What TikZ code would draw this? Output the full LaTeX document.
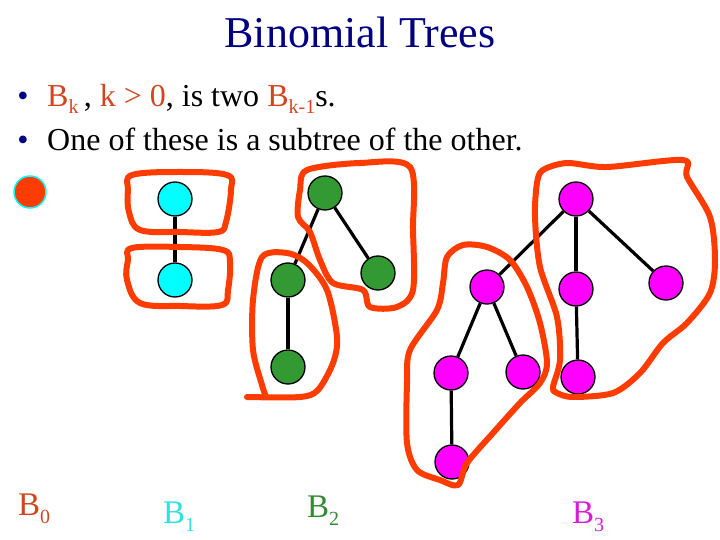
\documentclass[tikz,border=0pt]{standalone}
\usepackage{fontspec}
\setmainfont{Liberation Serif}
\usetikzlibrary{backgrounds}
\definecolor{navy}{RGB}{0,0,128}
\definecolor{txtorange}{RGB}{210,70,30}
\definecolor{loopred}{RGB}{255,60,0}
\definecolor{cyantxt}{RGB}{45,225,225}
\definecolor{cyanfill}{RGB}{0,255,255}
\definecolor{greenfill}{RGB}{51,153,51}
\definecolor{greentxt}{RGB}{51,140,51}
\definecolor{magfill}{RGB}{255,0,255}
\definecolor{magtxt}{RGB}{215,30,215}
\newcommand\mysub[1]{\raisebox{-7pt}{\fontsize{20}{20}\selectfont #1}}
\newcommand\labsub[1]{\raisebox{-8pt}{\fontsize{20}{20}\selectfont #1}}
\begin{document}
\begin{tikzpicture}[x=1pt,y=-1pt,
  tnode/.style={circle,draw=black,line width=1.3pt,minimum size=34pt,inner sep=0pt},
  cyannode/.style={tnode,fill=cyanfill},
  greennode/.style={tnode,fill=greenfill},
  magnode/.style={tnode,fill=magfill},
  edge/.style={draw=black,line width=3.2pt},
  loopline/.style={draw=loopred,line width=6pt,line join=round,line cap=round},
  txt/.style={inner sep=0pt,anchor=base west}]
\useasboundingbox (0,0) rectangle (720,540);
% title
\node[inner sep=0pt,anchor=base,text=navy,font=\fontsize{44}{44}\selectfont] (title) at (360,48) {Binomial Trees};
% bullets
\node[inner sep=0pt,anchor=base,text=navy,font=\fontsize{32}{32}\selectfont] (bul1) at (23,107) {\textbullet};
\node[inner sep=0pt,anchor=base,text=navy,font=\fontsize{32}{32}\selectfont] (bul2) at (23,151) {\textbullet};
\node[txt,font=\fontsize{32}{32}\selectfont] (line1) at (47,107) {{\color{txtorange}B\mysub{k}}\,, {\color{txtorange}k > 0}, is two {\color{txtorange}B\mysub{k-1}}s.};
\node[txt,font=\fontsize{32}{32}\selectfont] (line2) at (47,151) {One of these is a subtree of the other.};
% B0
\node[circle,fill=loopred,draw=cyanfill,line width=1.5pt,minimum size=32pt,inner sep=0pt] (b0) at (30,192) {};
% B1
\node[cyannode] (b1a) at (175,199) {};
\node[cyannode] (b1b) at (175,280) {};
% B2
\node[greennode] (b2r) at (325,193) {};
\node[greennode] (b2l) at (288,280) {};
\node[greennode] (b2rr) at (378,273) {};
\node[greennode] (b2ll) at (288,367) {};
% B3
\node[magnode] (b3r) at (576,199) {};
\node[magnode] (b3a) at (487,287) {};
\node[magnode] (b3b) at (576,289) {};
\node[magnode] (b3c) at (666,283) {};
\node[magnode] (b3aa) at (451,373) {};
\node[magnode] (b3ab) at (523,372) {};
\node[magnode] (b3ba) at (578,377) {};
\node[magnode] (b3aaa) at (452,462) {};
% edges behind the nodes
\begin{pgfonlayer}{background}
\draw[edge] (b1a) -- (b1b);
\draw[edge] (b2r) -- (b2l);
\draw[edge] (b2r) -- (b2rr);
\draw[edge] (b2l) -- (b2ll);
\draw[edge] (b3r) -- (b3a);
\draw[edge] (b3r) -- (b3b);
\draw[edge] (b3r) -- (b3c);
\draw[edge] (b3a) -- (b3aa);
\draw[edge] (b3a) -- (b3ab);
\draw[edge] (b3aa) -- (b3aaa);
\draw[edge] (b3b) -- (b3ba);
\end{pgfonlayer}
% loops
\draw[loopline] plot[smooth cycle,tension=0.6] coordinates {(132,175) (180,172) (227,175) (231,190) (226,222) (218,232) (180,232) (140,230) (129,212) (128,190)};
\draw[loopline] plot[smooth cycle,tension=0.6] coordinates {(132,248) (180,247) (223,250) (230,262) (228,290) (222,305) (180,306) (140,303) (127,280) (128,260)};
\draw[loopline] plot[smooth cycle,tension=0.5] coordinates {(307,170) (360,163) (410,167) (413,230) (413,290) (397,307) (370,307) (363,290) (333,283) (320,260) (310,232) (298,217) (300,190)};
\draw[loopline] plot[smooth,tension=0.5] coordinates {(247,397) (300,397) (318,390) (333,363) (337,337) (327,290) (307,263) (287,253) (262,257) (253,300) (253,350) (262,385) (266,397)};
\draw[loopline] plot[smooth cycle,tension=0.5] coordinates {(463,245) (487,247) (510,260) (527,287) (540,323) (547,363) (540,383) (520,403) (493,433) (467,463) (458,485) (440,480) (417,470) (407,443) (407,383) (410,350) (437,310) (443,283) (447,257)};
\draw[loopline] plot[smooth cycle,tension=0.5] coordinates {(543,170) (567,163) (607,167) (683,160) (687,177) (710,217) (715,260) (710,293) (687,323) (663,343) (640,373) (613,393) (573,397) (557,393) (553,387) (560,360) (557,317) (540,267) (535,217) (537,183)};
% labels
\node[txt,text=txtorange,font=\fontsize{33}{33}\selectfont] (lb0) at (18,515) {B\labsub{0}};
\node[txt,text=cyantxt,font=\fontsize{33}{33}\selectfont] (lb1) at (163,523) {B\labsub{1}};
\node[txt,text=greentxt,font=\fontsize{33}{33}\selectfont] (lb2) at (307,517) {B\labsub{2}};
\node[txt,text=magtxt,font=\fontsize{33}{33}\selectfont] (lb3) at (572,523) {B\labsub{3}};
\end{tikzpicture}
\end{document}
